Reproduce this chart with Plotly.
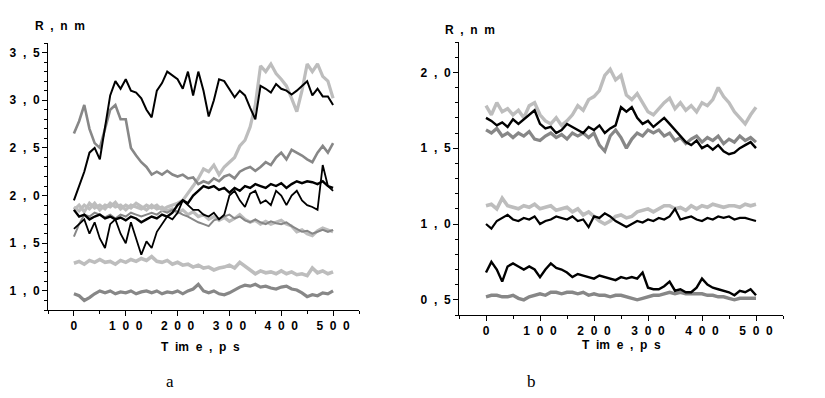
import plotly.graph_objects as go

# ---------------- data ----------------
time_ps = list(range(0, 501, 10))

# panel a
a_black_top = [1.95, 2.10, 2.25, 2.45, 2.50, 2.38, 2.70, 3.05, 3.20, 3.12, 3.22, 3.10, 3.08, 3.02, 2.90, 2.82,
               3.10, 3.18, 3.30, 3.26, 3.22, 3.12, 3.30, 3.05, 3.30, 3.10, 2.83, 3.00, 3.22, 3.20, 3.12, 3.03,
               3.10, 3.05, 2.92, 2.80, 3.15, 3.12, 3.08, 3.17, 3.12, 3.10, 3.06, 3.10, 3.15, 3.20, 3.05, 3.12,
               3.04, 3.04, 2.95]
a_light_rise = [1.85, 1.90, 1.83, 1.92, 1.87, 1.90, 1.86, 1.92, 1.88, 1.90, 1.85, 1.90, 1.88, 1.86, 1.90, 1.87,
                1.90, 1.85, 1.88, 1.90, 1.92, 1.95, 2.02, 2.10, 2.18, 2.28, 2.25, 2.32, 2.22, 2.30, 2.35, 2.40,
                2.52, 2.58, 2.72, 2.95, 3.36, 3.30, 3.38, 3.28, 3.22, 3.15, 3.02, 2.88, 3.10, 3.38, 3.30, 3.38,
                3.25, 3.20, 3.02]
a_light_flat = [1.88, 1.84, 1.90, 1.86, 1.92, 1.85, 1.90, 1.88, 1.93, 1.86, 1.90, 1.87, 1.92, 1.88, 1.85, 1.90,
                1.86, 1.88, 1.84, 1.86, 1.82, 1.85, 1.80, 1.83, 1.78, 1.80, 1.75, 1.78, 1.74, 1.77, 1.73, 1.76,
                1.80, 1.75, 1.72, 1.74, 1.70, 1.73, 1.70, 1.72, 1.74, 1.70, 1.68, 1.62, 1.64, 1.60, 1.58, 1.63,
                1.66, 1.64, 1.62]
a_gray_high = [2.65, 2.78, 2.95, 2.70, 2.55, 2.50, 2.70, 2.90, 2.95, 2.80, 2.80, 2.50, 2.42, 2.35, 2.30, 2.22,
               2.25, 2.22, 2.26, 2.22, 2.20, 2.22, 2.18, 2.19, 2.12, 2.15, 2.13, 2.18, 2.15, 2.20, 2.22, 2.18,
               2.25, 2.28, 2.30, 2.26, 2.30, 2.35, 2.32, 2.40, 2.45, 2.38, 2.48, 2.45, 2.42, 2.38, 2.35, 2.45,
               2.52, 2.45, 2.55]
a_gray_mid = [1.57, 1.70, 1.80, 1.78, 1.82, 1.80, 1.77, 1.80, 1.76, 1.80, 1.78, 1.82, 1.80, 1.78, 1.80, 1.82,
              1.80, 1.84, 1.82, 1.85, 1.83, 1.80, 1.78, 1.75, 1.72, 1.70, 1.68, 1.74, 1.76, 1.78, 1.80, 1.76,
              1.78, 1.74, 1.72, 1.75, 1.72, 1.70, 1.73, 1.71, 1.70, 1.72, 1.68, 1.65, 1.62, 1.63, 1.60, 1.62,
              1.64, 1.62, 1.64]
a_black_mid = [1.85, 1.78, 1.80, 1.75, 1.78, 1.80, 1.76, 1.78, 1.75, 1.77, 1.74, 1.78, 1.76, 1.72, 1.75, 1.78,
               1.76, 1.80, 1.78, 1.82, 1.90, 1.95, 1.92, 2.00, 2.05, 2.10, 2.08, 2.10, 2.06, 2.08, 2.03, 2.08,
               2.05, 2.10, 2.08, 2.12, 2.10, 2.08, 2.12, 2.10, 2.13, 2.08, 2.12, 2.15, 2.13, 2.15, 2.14, 2.12,
               2.15, 2.10, 2.08]
a_black_low = [1.65, 1.70, 1.75, 1.60, 1.72, 1.55, 1.45, 1.70, 1.75, 1.60, 1.50, 1.72, 1.55, 1.38, 1.52, 1.45,
               1.62, 1.70, 1.78, 1.75, 1.82, 1.95, 1.90, 1.85, 1.85, 1.80, 1.78, 1.82, 1.75, 1.80, 2.00, 2.05,
               1.95, 1.88, 2.02, 2.05, 1.92, 1.95, 1.90, 2.05, 2.00, 1.90, 2.00, 2.05, 1.95, 1.90, 1.88, 1.85,
               2.32, 2.10, 2.05]
a_light_low = [1.29, 1.31, 1.28, 1.32, 1.30, 1.33, 1.30, 1.31, 1.28, 1.32, 1.30, 1.33, 1.31, 1.34, 1.32, 1.36,
               1.31, 1.30, 1.32, 1.28, 1.30, 1.27, 1.28, 1.25, 1.27, 1.24, 1.25, 1.22, 1.24, 1.25, 1.27, 1.24,
               1.30, 1.26, 1.23, 1.18, 1.21, 1.19, 1.20, 1.18, 1.21, 1.18, 1.20, 1.17, 1.18, 1.16, 1.24, 1.19,
               1.21, 1.18, 1.20]
a_gray_low = [0.97, 0.95, 0.90, 0.93, 0.97, 1.00, 0.98, 1.00, 0.97, 0.99, 0.98, 1.00, 0.97, 0.99, 1.00, 0.98,
              1.00, 0.97, 0.99, 0.98, 1.00, 0.97, 1.00, 1.02, 1.07, 1.00, 0.98, 1.00, 0.97, 0.96, 0.98, 1.01,
              1.04, 1.06, 1.05, 1.07, 1.04, 1.05, 1.03, 1.02, 1.04, 1.05, 1.02, 1.01, 0.98, 0.94, 0.96, 0.95,
              0.98, 0.97, 1.00]

# panel b
b_light_top = [1.78, 1.72, 1.80, 1.74, 1.76, 1.72, 1.75, 1.70, 1.78, 1.80, 1.72, 1.68, 1.66, 1.70, 1.65, 1.68,
               1.72, 1.78, 1.75, 1.82, 1.84, 1.88, 1.98, 2.02, 1.95, 1.98, 1.85, 1.82, 1.86, 1.80, 1.74, 1.72,
               1.76, 1.80, 1.83, 1.76, 1.80, 1.75, 1.78, 1.74, 1.80, 1.78, 1.82, 1.90, 1.84, 1.80, 1.74, 1.70,
               1.66, 1.72, 1.77]
b_black_top = [1.70, 1.68, 1.65, 1.67, 1.64, 1.69, 1.66, 1.69, 1.72, 1.75, 1.66, 1.63, 1.64, 1.60, 1.62, 1.66,
               1.64, 1.62, 1.60, 1.64, 1.62, 1.65, 1.60, 1.63, 1.65, 1.77, 1.74, 1.77, 1.70, 1.66, 1.68, 1.64,
               1.67, 1.70, 1.66, 1.62, 1.58, 1.54, 1.52, 1.55, 1.50, 1.52, 1.49, 1.52, 1.48, 1.46, 1.47, 1.50,
               1.52, 1.54, 1.50]
b_gray_top = [1.62, 1.60, 1.63, 1.58, 1.60, 1.57, 1.60, 1.58, 1.61, 1.56, 1.55, 1.58, 1.60, 1.57, 1.59, 1.56,
              1.60, 1.58, 1.60, 1.57, 1.60, 1.52, 1.48, 1.58, 1.62, 1.57, 1.50, 1.56, 1.60, 1.58, 1.62, 1.60,
              1.62, 1.58, 1.60, 1.55, 1.57, 1.53, 1.56, 1.58, 1.54, 1.57, 1.55, 1.58, 1.53, 1.56, 1.54, 1.58,
              1.55, 1.57, 1.54]
b_light_mid = [1.12, 1.13, 1.10, 1.17, 1.12, 1.11, 1.10, 1.12, 1.11, 1.13, 1.10, 1.11, 1.12, 1.09, 1.10, 1.11,
               1.08, 1.10, 1.06, 1.08, 1.05, 1.02, 1.00, 1.02, 1.05, 1.06, 1.04, 1.05, 1.08, 1.09, 1.10, 1.08,
               1.10, 1.12, 1.12, 1.10, 1.11, 1.09, 1.12, 1.10, 1.12, 1.11, 1.13, 1.12, 1.11, 1.12, 1.12, 1.11,
               1.13, 1.12, 1.13]
b_black_mid = [1.00, 0.97, 1.02, 1.04, 1.06, 1.03, 1.02, 1.04, 1.03, 1.05, 1.00, 1.02, 1.03, 1.05, 1.04, 1.03,
               1.05, 1.02, 1.03, 0.98, 1.05, 1.04, 1.07, 1.05, 1.02, 1.00, 0.98, 1.00, 1.02, 1.01, 1.03, 1.02,
               1.04, 1.03, 1.05, 1.10, 1.03, 1.04, 1.05, 1.03, 1.02, 1.04, 1.03, 1.05, 1.04, 1.05, 1.03, 1.04,
               1.04, 1.03, 1.02]
b_black_low = [0.68, 0.75, 0.70, 0.62, 0.72, 0.74, 0.72, 0.70, 0.72, 0.70, 0.65, 0.70, 0.74, 0.71, 0.70, 0.68,
               0.65, 0.67, 0.66, 0.65, 0.64, 0.66, 0.65, 0.64, 0.63, 0.65, 0.64, 0.65, 0.64, 0.68, 0.58, 0.57,
               0.57, 0.59, 0.62, 0.56, 0.57, 0.55, 0.55, 0.58, 0.64, 0.60, 0.58, 0.57, 0.56, 0.55, 0.53, 0.56,
               0.55, 0.57, 0.53]
b_gray_low = [0.52, 0.53, 0.53, 0.52, 0.52, 0.53, 0.51, 0.50, 0.52, 0.53, 0.54, 0.53, 0.55, 0.55, 0.54, 0.55,
              0.55, 0.54, 0.55, 0.53, 0.54, 0.53, 0.53, 0.52, 0.53, 0.53, 0.52, 0.51, 0.50, 0.51, 0.52, 0.53,
              0.53, 0.54, 0.55, 0.54, 0.55, 0.54, 0.54, 0.54, 0.54, 0.53, 0.53, 0.52, 0.52, 0.51, 0.50, 0.51,
              0.51, 0.51, 0.51]

NB = "\u00a0"
a_ytick_vals = [1.0, 1.5, 2.0, 2.5, 3.0, 3.5]
a_ytick_text = ["1 , 0", "1 , 5", "2 , 0", "2 , 5", "3 , 0", "3 , 5"]
b_ytick_vals = [0.5, 1.0, 1.5, 2.0]
b_ytick_text = ["0 , 5", "1 , 0", "1 , 5", "2 , 0"]
xtick_vals = [0, 100, 200, 300, 400, 500]
xtick_text = ["0", "1 0 0", "2 0 0", "3 0 0", "4 0 0", "5 0 0"]
y_title = "R , n m"
x_title = "T im e , p s"


def spaced(s):
    # keep the visible gaps of the original lettering (non-breaking so SVG keeps them)
    return s.replace(" ", NB + NB)


# ---------------- figure ----------------
W, H = 825, 398
OFF = 8  # default page margin of the written html
LIGHT = "#bdbdbd"
MID = "#878787"
DARK = "#000000"

fig = go.Figure()

panel_a = [
    (a_light_flat, LIGHT, 3.2), (a_gray_mid, MID, 2.0), (a_light_rise, LIGHT, 3.2),
    (a_gray_high, MID, 2.6), (a_light_low, LIGHT, 3.6), (a_gray_low, MID, 3.2),
    (a_black_low, DARK, 1.8), (a_black_mid, DARK, 2.4), (a_black_top, DARK, 2.0),
]
panel_b = [
    (b_light_top, LIGHT, 3.4), (b_gray_top, MID, 3.2), (b_black_top, DARK, 2.4),
    (b_light_mid, LIGHT, 3.6), (b_black_mid, DARK, 2.2),
    (b_gray_low, MID, 3.4), (b_black_low, DARK, 2.4),
]
for ys, c, w in panel_a:
    fig.add_trace(go.Scatter(x=time_ps, y=ys, mode="lines", line=dict(color=c, width=w),
                             xaxis="x", yaxis="y", showlegend=False))
for ys, c, w in panel_b:
    fig.add_trace(go.Scatter(x=time_ps, y=ys, mode="lines", line=dict(color=c, width=w),
                             xaxis="x2", yaxis="y2", showlegend=False))


def hx(px):
    return (px - OFF) / W


def vy(py):
    return (H - (py - OFF)) / H


tickfont = dict(family="Liberation Sans, Arial, sans-serif", size=12, color="#000000", weight="bold")
common = dict(showline=True, linecolor="black", linewidth=1, ticks="outside", ticklen=5,
              tickcolor="black", showgrid=False, zeroline=False, tickfont=tickfont, automargin=False)

fig.update_layout(
    width=W, height=H, margin=dict(l=0, r=0, t=0, b=0),
    paper_bgcolor="white", plot_bgcolor="white",
    xaxis=dict(domain=[hx(48), hx(359)], range=[-50, 550], anchor="y",
               tickvals=xtick_vals, ticktext=[spaced(t) for t in xtick_text],
               minor=dict(dtick=50, tick0=0, ticks="outside", ticklen=3, tickcolor="black"), **common),
    yaxis=dict(domain=[vy(310), vy(43)], range=[0.8, 3.6], anchor="x",
               tickvals=a_ytick_vals, ticktext=[spaced(t) for t in a_ytick_text],
               minor=dict(dtick=0.1, tick0=0, ticks="outside", ticklen=3, tickcolor="black"), **common),
    xaxis2=dict(domain=[hx(459), hx(783)], range=[-50, 550], anchor="y2",
                tickvals=xtick_vals, ticktext=[spaced(t) for t in xtick_text],
                minor=dict(dtick=50, tick0=0, ticks="outside", ticklen=3, tickcolor="black"), **common),
    yaxis2=dict(domain=[vy(315), vy(42)], range=[0.4, 2.2], anchor="x2",
                tickvals=b_ytick_vals, ticktext=[spaced(t) for t in b_ytick_text],
                minor=dict(dtick=0.1, tick0=0, ticks="outside", ticklen=3, tickcolor="black"), **common),
)

lab = dict(family="Liberation Sans, Arial, sans-serif", size=12, color="black", weight="bold")
serif = dict(family="Liberation Serif, Times New Roman, serif", size=17, color="black")
ann = [
    (spaced(y_title), 60, 26, lab), (spaced(x_title), 200, 347, lab),
    (spaced(y_title), 470, 30, lab), (spaced(x_title), 621, 345, lab),
    ("a", 170, 381, serif), ("b", 531, 381, serif),
]
for txt, px, py, f in ann:
    fig.add_annotation(text=txt, x=hx(px), y=vy(py), xref="paper", yref="paper",
                       showarrow=False, font=f, xanchor="center", yanchor="middle")

fig.write_html("out.html")
